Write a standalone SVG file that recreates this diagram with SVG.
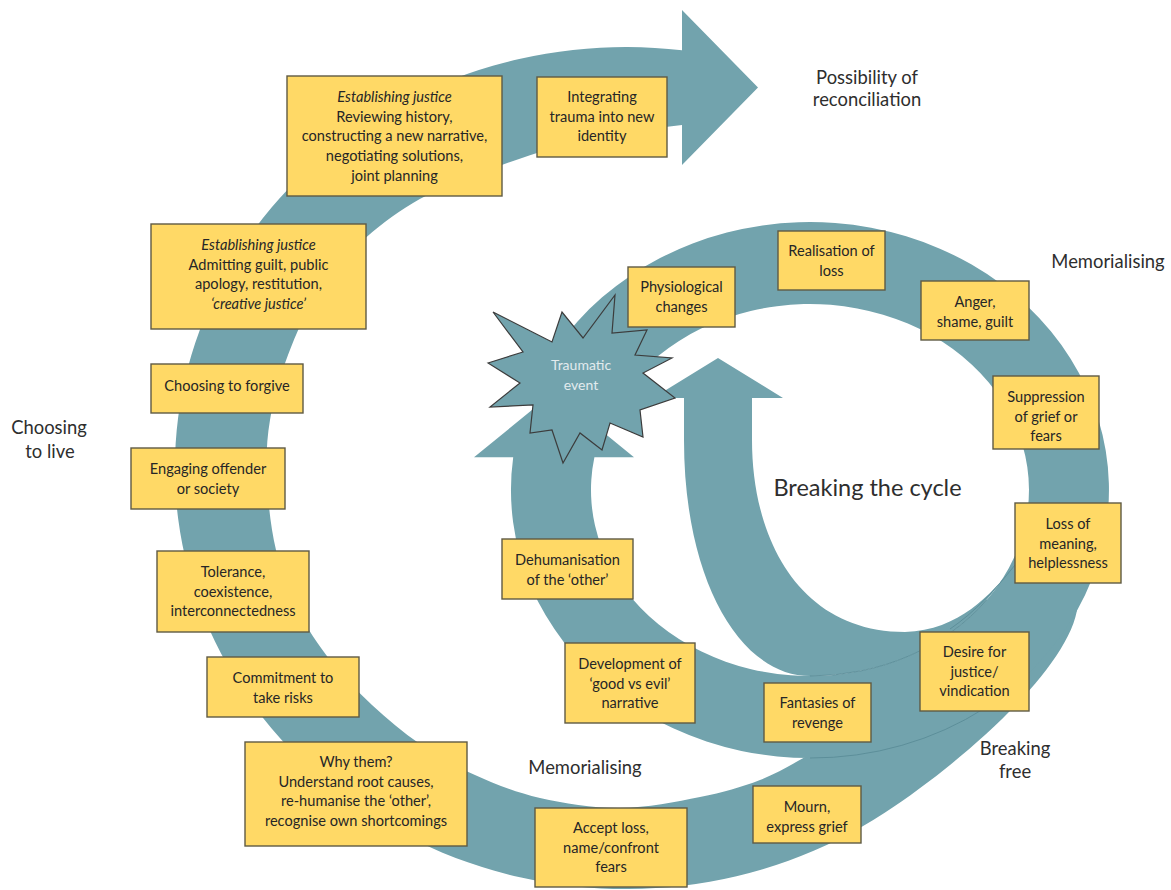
<svg xmlns="http://www.w3.org/2000/svg" width="1171" height="890" viewBox="0 0 1171 890">
<style>
.band{fill:#72a3ad}
.edge{fill:none;stroke:#5a8c97;stroke-width:0.9}
.box{fill:#ffd966;stroke:#5f5a44;stroke-width:1.4}
.bt{font-family:Lato,"Liberation Sans",sans-serif;font-size:14.6px;fill:#262626;text-anchor:middle}
.it{font-style:italic}
.lbl{font-family:Lato,"Liberation Sans",sans-serif;font-size:18.4px;fill:#2e2e2e;text-anchor:middle}
.star{fill:#72a3ad;stroke:#3c3c3c;stroke-width:1.2;stroke-linejoin:miter}
.st{font-family:Lato,"Liberation Sans",sans-serif;font-size:14px;fill:#e2ebee;text-anchor:middle}
</style>
<rect width="1171" height="890" fill="#ffffff"/>
<g id="connectors">
<path id="band-outer" class="band" d="M 1078 600 C 1078 660, 968.4 758, 884.7 812.8 A 451 421 0 1 1 682 50.3 L 682 10 L 758 87.5 L 682 165 L 682 125 C 654.7 128.7, 624.2 131.3, 600 136 S 558.7 146.2, 537 153 S 490.7 168.7, 470 177 S 431.3 192, 413 203 S 375.8 228.2, 360 243 S 330 273.3, 318 292 S 296 333.7, 288 355 S 273.5 399.2, 270 420 S 266 458.3, 267 480 S 270.8 528.3, 276 550 S 289 591.7, 298 610 S 317.7 644.2, 330 660 S 357 691, 372 705 S 402.8 732.3, 420 744 S 455 766, 475 775 S 515.8 792.5, 540 798 S 593.3 808.2, 620 808 S 676.7 801.7, 700 797 S 741.2 787.3, 760 780 S 793 763.3, 813 753 S 858.8 731.5, 880 718 S 922.5 689.2, 940 672 S 970 634, 985 615 Z"/>
<path id="band-cycle" class="band" d="M 556.4 348 A 299 268 0 1 1 513.2 457.3 L 474 457.3 L 554 392 L 634 457.3 L 594.4 457.3 A 219 186 0 1 0 624.3 391.4 Z"/>
<path id="band-breaking" class="band" d="M 684 398 L 684 440 C 684 580, 740 676, 810 676 A 219 186 0 0 0 1000 582.4 L 1035 556 L 1042 538 L 1015 565 C 990 595, 960 630, 905 632 C 800 632, 752 540, 752 440 L 752 398 L 783 398 L 718 358 L 653 398 Z"/>
<path class="edge" d="M 810 676 A 219 186 0 0 0 986.6 600"/>
<path class="edge" d="M 810 758 A 299 268 0 0 0 985 708"/>
<path class="edge" d="M 1015 565 C 995 590, 975 612, 950 629"/>
</g>
<g id="traumatic-event">
<polygon class="star" points="488,363 523,352 493,312 552,342 562,312 583,338 615,295 612,333 647,330 635,355 672,358 643,373 675,398 640,410 643,437 610,423 602,450 580,433 563,463 552,430 530,433 533,405 490,407 520,383"/>
<text class="st" x="581" y="370">Traumatic</text>
<text class="st" x="581" y="390">event</text>
</g>
<g id="n-justice-review"><rect class="box" x="287" y="76" width="215" height="120"/>
<text class="bt it" x="394.5" y="102">Establishing justice</text>
<text class="bt" x="394.5" y="121.7">Reviewing history,</text>
<text class="bt" x="394.5" y="141.4">constructing a new narrative,</text>
<text class="bt" x="394.5" y="161.1">negotiating solutions,</text>
<text class="bt" x="394.5" y="180.8">joint planning</text></g>
<g id="n-integrating"><rect class="box" x="537" y="77" width="130" height="80"/>
<text class="bt" x="602" y="102">Integrating</text>
<text class="bt" x="602" y="121.7">trauma into new</text>
<text class="bt" x="602" y="141.4">identity</text></g>
<g id="n-justice-admit"><rect class="box" x="151" y="224" width="215" height="105"/>
<text class="bt it" x="258.5" y="250">Establishing justice</text>
<text class="bt" x="258.5" y="269.7">Admitting guilt, public</text>
<text class="bt" x="258.5" y="289.4">apology, restitution,</text>
<text class="bt it" x="258.5" y="309.1">‘creative justice’</text></g>
<g id="n-forgive"><rect class="box" x="151" y="364" width="152" height="49"/>
<text class="bt" x="227" y="391">Choosing to forgive</text></g>
<g id="n-engaging"><rect class="box" x="131" y="448" width="154" height="61"/>
<text class="bt" x="208" y="474">Engaging offender</text>
<text class="bt" x="208" y="493.7">or society</text></g>
<g id="n-tolerance"><rect class="box" x="157" y="551" width="152" height="81"/>
<text class="bt" x="233" y="577">Tolerance,</text>
<text class="bt" x="233" y="596.7">coexistence,</text>
<text class="bt" x="233" y="616.4">interconnectedness</text></g>
<g id="n-commitment"><rect class="box" x="207" y="657" width="152" height="60"/>
<text class="bt" x="283" y="683">Commitment to</text>
<text class="bt" x="283" y="702.7">take risks</text></g>
<g id="n-whythem"><rect class="box" x="245" y="742" width="222" height="104"/>
<text class="bt" x="356" y="767">Why them?</text>
<text class="bt" x="356" y="786.7">Understand root causes,</text>
<text class="bt" x="356" y="806.4">re-humanise the ‘other’,</text>
<text class="bt" x="356" y="826.1">recognise own shortcomings</text></g>
<g id="n-accept"><rect class="box" x="535" y="808" width="152" height="79"/>
<text class="bt" x="611" y="833">Accept loss,</text>
<text class="bt" x="611" y="852.7">name/confront</text>
<text class="bt" x="611" y="872.4">fears</text></g>
<g id="n-mourn"><rect class="box" x="753" y="786" width="108" height="57"/>
<text class="bt" x="807" y="812">Mourn,</text>
<text class="bt" x="807" y="831.7">express grief</text></g>
<g id="n-fantasies"><rect class="box" x="764" y="683" width="107" height="59"/>
<text class="bt" x="817.5" y="708">Fantasies of</text>
<text class="bt" x="817.5" y="727.7">revenge</text></g>
<g id="n-desire"><rect class="box" x="920" y="632" width="109" height="79"/>
<text class="bt" x="974.5" y="657">Desire for</text>
<text class="bt" x="974.5" y="676.7">justice/</text>
<text class="bt" x="974.5" y="696.4">vindication</text></g>
<g id="n-development"><rect class="box" x="565" y="643" width="130" height="80"/>
<text class="bt" x="630" y="669">Development of</text>
<text class="bt" x="630" y="688.7">‘good vs evil’</text>
<text class="bt" x="630" y="708.4">narrative</text></g>
<g id="n-dehumanisation"><rect class="box" x="502" y="539" width="131" height="60"/>
<text class="bt" x="567.5" y="565">Dehumanisation</text>
<text class="bt" x="567.5" y="584.7">of the ‘other’</text></g>
<g id="n-physiological"><rect class="box" x="628" y="267" width="107" height="60"/>
<text class="bt" x="681.5" y="292">Physiological</text>
<text class="bt" x="681.5" y="311.7">changes</text></g>
<g id="n-realisation"><rect class="box" x="778" y="231" width="107" height="59"/>
<text class="bt" x="831.5" y="256">Realisation of</text>
<text class="bt" x="831.5" y="275.7">loss</text></g>
<g id="n-anger"><rect class="box" x="921" y="281" width="108" height="59"/>
<text class="bt" x="975" y="307">Anger,</text>
<text class="bt" x="975" y="326.7">shame, guilt</text></g>
<g id="n-suppression"><rect class="box" x="993" y="376" width="106" height="73"/>
<text class="bt" x="1046" y="402">Suppression</text>
<text class="bt" x="1046" y="421.7">of grief or</text>
<text class="bt" x="1046" y="441.4">fears</text></g>
<g id="n-lossmeaning"><rect class="box" x="1015" y="503" width="106" height="80"/>
<text class="bt" x="1068" y="529">Loss of</text>
<text class="bt" x="1068" y="548.7">meaning,</text>
<text class="bt" x="1068" y="568.4">helplessness</text></g>
<g id="labels">
<text class="lbl" x="867" y="84">Possibility of</text>
<text class="lbl" x="867" y="106">reconciliation</text>
<text class="lbl" x="1108" y="268">Memorialising</text>
<text class="lbl" x="585" y="774">Memorialising</text>
<text class="lbl" x="49" y="434">Choosing</text>
<text class="lbl" x="50" y="458">to live</text>
<text class="lbl" x="1015" y="755">Breaking</text>
<text class="lbl" x="1015" y="778">free</text>
<text class="lbl" x="867.5" y="496" style="font-size:23.5px">Breaking the cycle</text>
</g>
</svg>
